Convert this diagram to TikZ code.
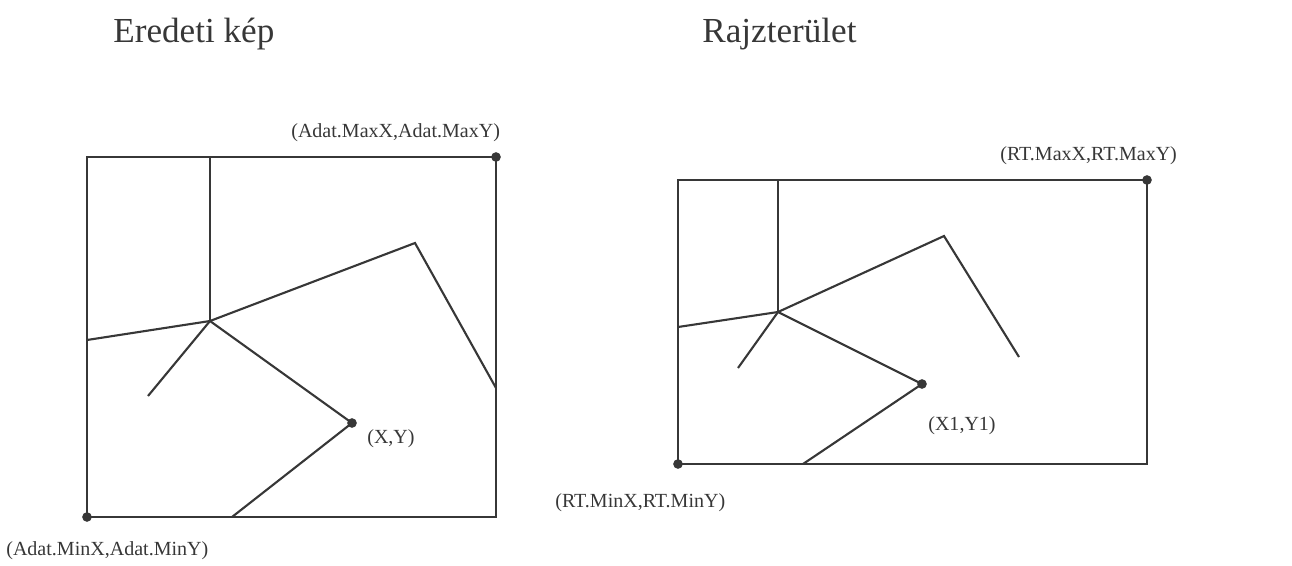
\documentclass[tikz,border=0pt]{standalone}
\usepackage{fontspec}
\setmainfont{Liberation Serif}
\usetikzlibrary{positioning}
\definecolor{inkgray}{RGB}{55,55,55}
\tikzset{
  frame/.style={draw=inkgray, line width=0.8pt},
  wire/.style={draw=inkgray, line width=1.2pt},
  dot/.style={circle, fill=inkgray, inner sep=0pt, minimum size=5.5pt},
  lbl/.style={font=\fontsize{11.4}{13}\selectfont, inner sep=0pt, text=inkgray, anchor=base west},
  ttl/.style={font=\fontsize{20}{23}\selectfont, inner sep=0pt, text=inkgray, anchor=base west}
}
\begin{document}
\begin{tikzpicture}[x=0.02cm, y=-0.02cm]
  \useasboundingbox (0,0) rectangle (1292,565);
  % titles
  \node[ttl] (ttlorig) at (113,42) {Eredeti kép};
  \node[ttl] (ttlarea) at (702,42) {Rajzterület};
  % original picture
  \coordinate (aMin) at (87,517);
  \coordinate (aMax) at (496,157);
  \coordinate (aTop) at (210,157);
  \coordinate (aC) at (210,321);
  \coordinate (aLeft) at (87,340);
  \coordinate (aPeak) at (415,243);
  \coordinate (aRight) at (496,388);
  \coordinate (aTip) at (148,396);
  \coordinate (aBot) at (232,517);
  \draw[frame] (aMin) rectangle (aMax);
  \draw[frame] (aTop) -- (aC);
  \draw[wire] (aLeft) -- (aC) -- (aPeak) -- (aRight);
  \draw[wire] (aC) -- (aTip);
  \node[dot] (aXY) at (352,423) {};
  \draw[wire] (aC) -- (aXY.center) -- (aBot);
  \node[dot] (aMinDot) at (aMin) {};
  \node[dot] (aMaxDot) at (aMax) {};
  \node[lbl] (aMaxLbl) at (291,137) {(Adat.MaxX,Adat.MaxY)};
  \node[lbl] (aMinLbl) at (6,555) {(Adat.MinX,Adat.MinY)};
  \node[lbl] (aXYLbl) at (367,443) {(X,Y)};
  % drawing area
  \coordinate (rMin) at (678,464);
  \coordinate (rMax) at (1147,180);
  \coordinate (rTop) at (778,180);
  \coordinate (rC) at (778,312);
  \coordinate (rLeft) at (678,327);
  \coordinate (rPeak) at (944,236);
  \coordinate (rEnd) at (1019,357);
  \coordinate (rTip) at (738,368);
  \coordinate (rBot) at (803,464);
  \draw[frame] (rMin) rectangle (rMax);
  \draw[frame] (rTop) -- (rC);
  \draw[wire] (rLeft) -- (rC) -- (rPeak) -- (rEnd);
  \draw[wire] (rC) -- (rTip);
  \node[dot] (rXY) at (922,384) {};
  \draw[wire] (rC) -- (rXY.center) -- (rBot);
  \node[dot] (rMinDot) at (rMin) {};
  \node[dot] (rMaxDot) at (rMax) {};
  \node[lbl] (rMaxLbl) at (1000,160) {(RT.MaxX,RT.MaxY)};
  \node[lbl] (rMinLbl) at (555,507) {(RT.MinX,RT.MinY)};
  \node[lbl] (rXYLbl) at (928,430) {(X1,Y1)};
\end{tikzpicture}
\end{document}
